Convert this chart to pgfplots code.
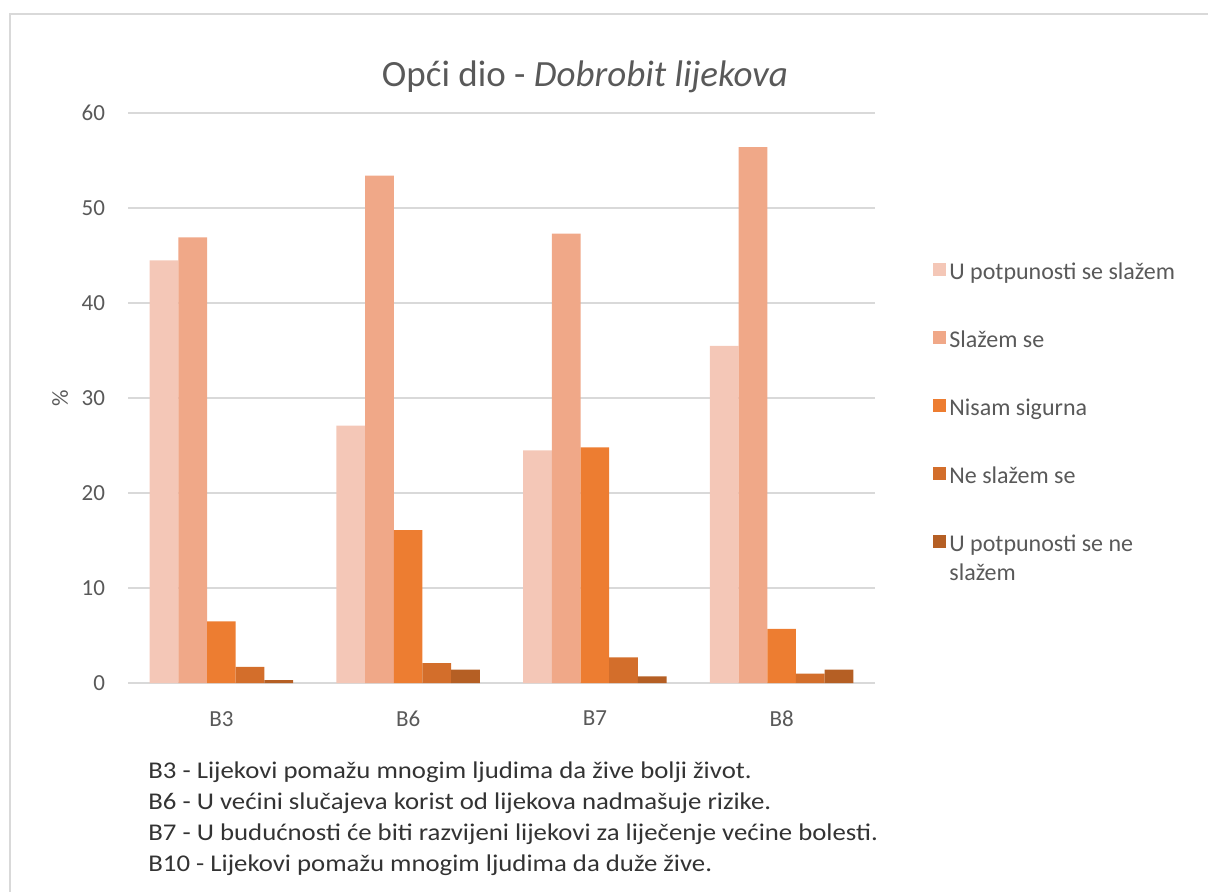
\documentclass[border=0pt]{standalone}
\usepackage{pgfplots}
\pgfplotsset{compat=1.18}
\usepackage{fontspec}
\setmainfont{Carlito}
\definecolor{c1}{HTML}{F4C7B7}
\definecolor{c2}{HTML}{F0A888}
\definecolor{c3}{HTML}{ED7D31}
\definecolor{c4}{HTML}{D36E2B}
\definecolor{c5}{HTML}{B55F24}
\definecolor{txt}{HTML}{595959}
\definecolor{gridc}{HTML}{D9D9D9}

\pgfplotstableread{
x  a     b     c     d    e
0  44.5  46.9  6.5   1.7  0.3
1  27.1  53.4  16.1  2.1  1.4
2  24.5  47.3  24.8  2.7  0.7
3  35.5  56.4  5.7   1.0  1.4
}\mydata

\begin{document}
\begin{tikzpicture}
\useasboundingbox (0,0) rectangle (604pt,445.5pt);
\draw[gridc, line width=0.8pt] (5pt,-5pt) -- (5pt,438.5pt) -- (610pt,438.5pt);
\begin{axis}[
    at={(64pt,104pt)}, anchor=south west,
    scale only axis, width=373.5pt, height=285pt,
    ybar=0pt, bar width=14.35pt,
    xmin=-0.5, xmax=3.5, ymin=0, ymax=60,
    xtick={0,1,2,3}, xticklabels={B3,B6,B7,B8},
    ytick={0,10,...,60},
    major tick length=0pt,
    axis x line*=bottom, axis y line*=left,
    x axis line style={gridc, line width=0.8pt},
    y axis line style={draw=none},
    ymajorgrids, grid style={gridc, line width=0.8pt},
    tick label style={font=\fontsize{11.5}{13}\selectfont, text=txt},
    yticklabel style={xshift=-8pt},
    xticklabel style={yshift=-10.5pt},
    /pgf/number format/assume math mode=true,
    ylabel={\%},
    ylabel style={at={(axis description cs:-0.091,0.5)}, anchor=center, font=\fontsize{11.5}{13}\selectfont, text=txt},
    title={Opći dio - \textit{Dobrobit lijekova}},
    title style={at={(axis description cs:0.6118,1.0421)}, anchor=center, font=\fontsize{18.5}{22}\selectfont, text=txt},
    legend style={at={(axis description cs:1.0776,0.743)}, anchor=north west, draw=none, fill=none,
        inner sep=0pt, row sep=21.2pt, font=\fontsize{12}{14.2}\selectfont, text=txt,
        nodes={inner sep=1.5pt}},
    legend cell align=left,
    legend image code/.code={\fill[#1] (0pt,-1.5pt) rectangle (6.5pt,5pt);},
]
\addplot[fill=c1, draw=none] table[x=x, y=a] {\mydata};
\addplot[fill=c2, draw=none] table[x=x, y=b] {\mydata};
\addplot[fill=c3, draw=none] table[x=x, y=c] {\mydata};
\addplot[fill=c4, draw=none] table[x=x, y=d] {\mydata};
\addplot[fill=c5, draw=none] table[x=x, y=e] {\mydata};
\legend{U potpunosti se slažem, Slažem se, Nisam sigurna, Ne slažem se, {\parbox[t]{3.5cm}{U potpunosti se ne\\slažem}}}
\end{axis}
\node[anchor=base west, inner sep=0pt, text=black!80] at (74pt,56.5pt)
{\scalebox{1.116}[1]{\parbox[t]{12cm}{\fontsize{12}{15.5}\selectfont
B3 - Lijekovi pomažu mnogim ljudima da žive bolji život.\\
B6 - U većini slučajeva korist od lijekova nadmašuje rizike.\\
B7 - U budućnosti će biti razvijeni lijekovi za liječenje većine bolesti.\\
B10 - Lijekovi pomažu mnogim ljudima da duže žive.}}};
\end{tikzpicture}
\end{document}
